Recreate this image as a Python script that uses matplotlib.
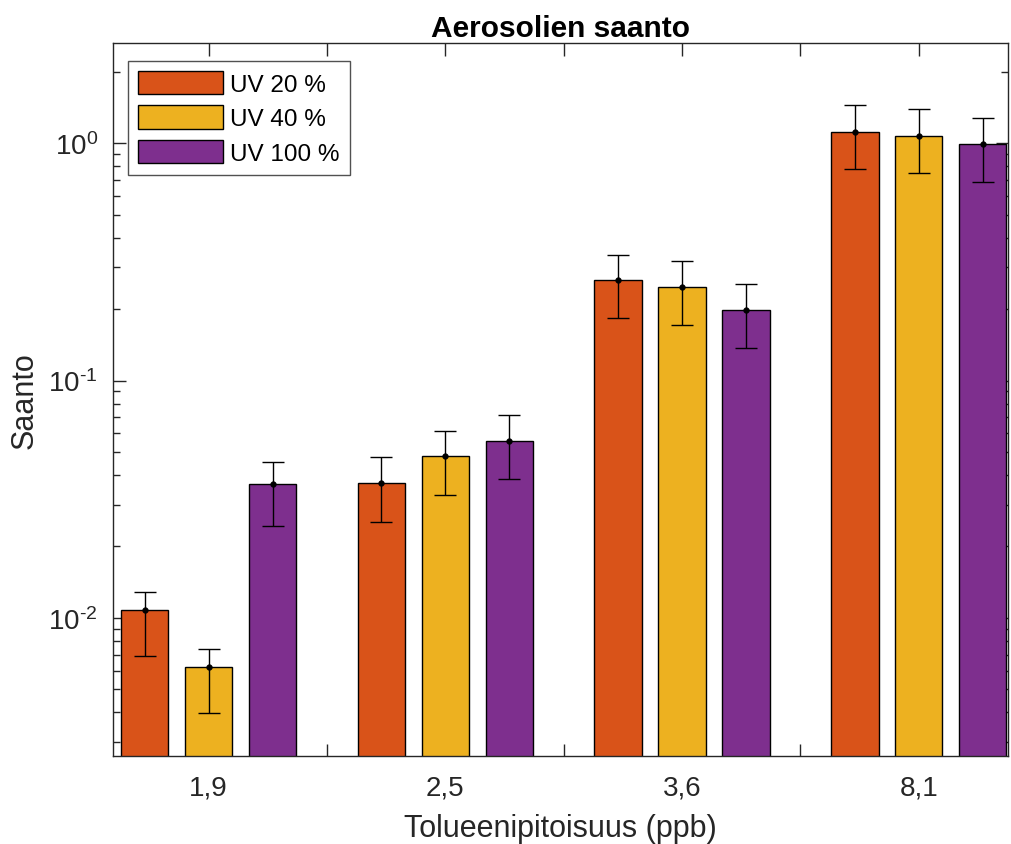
import numpy as np
import matplotlib
matplotlib.use("Agg")
import matplotlib.pyplot as plt
from matplotlib.ticker import LogLocator, FixedLocator, NullFormatter, FuncFormatter

plt.rcParams['font.family'] = ['Liberation Sans', 'DejaVu Sans']
plt.rcParams['mathtext.fontset'] = 'custom'
plt.rcParams['mathtext.rm'] = 'Liberation Sans'
plt.rcParams['mathtext.it'] = 'Liberation Sans'

# --- data ---
concentrations = ['1,9', '2,5', '3,6', '8,1']
series_names = ['UV 20 %', 'UV 40 %', 'UV 100 %']
colors = ['#D95319', '#EDB120', '#7E2F8E']

uv20 = [0.0108, 0.0370, 0.264, 1.11]
uv20_lo = [0.00693, 0.0254, 0.183, 0.778]
uv20_hi = [0.0129, 0.0474, 0.339, 1.445]

uv40 = [0.0062, 0.0483, 0.247, 1.07]
uv40_lo = [0.00399, 0.0330, 0.171, 0.745]
uv40_hi = [0.0074, 0.0614, 0.319, 1.39]

uv100 = [0.0368, 0.0557, 0.198, 0.987]
uv100_lo = [0.0243, 0.0386, 0.137, 0.687]
uv100_hi = [0.0452, 0.0719, 0.256, 1.278]

values = [uv20, uv40, uv100]
lows = [uv20_lo, uv40_lo, uv100_lo]
highs = [uv20_hi, uv40_hi, uv100_hi]

axcol = (0.15, 0.15, 0.15)


def pow10_label(v, pos):
    # MATLAB style: hyphen in the exponent, not a long minus
    e = int(round(np.log10(v)))
    return r'$10^{\text{%d}}$' % e


fig = plt.figure(figsize=(10.12, 8.45), dpi=100)
ax = fig.add_axes([0.1117, 0.1041, 0.8839, 0.8438])

x = np.arange(1, len(concentrations) + 1)
offsets = [-0.27, 0.0, 0.27]
width = 0.2

for i in range(3):
    v = np.array(values[i])
    lo = np.array(lows[i])
    hi = np.array(highs[i])
    ax.bar(x + offsets[i], v, width=width, color=colors[i], edgecolor='black',
           linewidth=1.0, label=series_names[i], zorder=2)
    ax.errorbar(x + offsets[i], v, yerr=[v - lo, hi - v], fmt='o', color='black',
                markersize=3.5, elinewidth=1.0, capsize=8, capthick=1.0, zorder=3)

ax.set_yscale('log')
ax.set_ylim(0.00262, 2.64)
ax.set_xlim(0.596, 4.375)

ax.xaxis.set_major_locator(FixedLocator(x))
ax.set_xticklabels(concentrations)
ax.xaxis.set_minor_locator(FixedLocator([1.5, 2.5, 3.5]))
ax.yaxis.set_major_locator(LogLocator(base=10, numticks=10))
ax.yaxis.set_major_formatter(FuncFormatter(pow10_label))
ax.yaxis.set_minor_locator(LogLocator(base=10, subs=np.arange(2, 10), numticks=20))
ax.yaxis.set_minor_formatter(NullFormatter())

ax.tick_params(axis='both', which='both', direction='in', top=True, right=True,
               colors=axcol, labelsize=20)
ax.tick_params(axis='both', which='major', length=9, width=1.0)
ax.tick_params(axis='both', which='minor', length=5, width=1.0)
ax.tick_params(axis='x', which='minor', length=9)
ax.tick_params(axis='x', pad=13)
ax.tick_params(axis='y', pad=11)
for s in ax.spines.values():
    s.set_color(axcol)
    s.set_linewidth(1.0)

ax.set_xlabel('Tolueenipitoisuus (ppb)', fontsize=22, color=axcol, labelpad=9)
ax.set_ylabel('Saanto', fontsize=22, color=axcol)
ax.yaxis.set_label_coords(-0.082, 0.5)
ax.set_title('Aerosolien saanto', fontsize=21.5, fontweight='bold', color='black', pad=5)

leg = ax.legend(loc='upper left', bbox_to_anchor=(0.017, 0.975), fontsize=17.5,
                frameon=True, fancybox=False, edgecolor=axcol, handlelength=3.5,
                handleheight=1.1, handletextpad=0.3, labelspacing=0.4,
                borderpad=0.4, borderaxespad=0.0)
leg.get_frame().set_linewidth(1.0)

fig.savefig('out.png', dpi=100)
